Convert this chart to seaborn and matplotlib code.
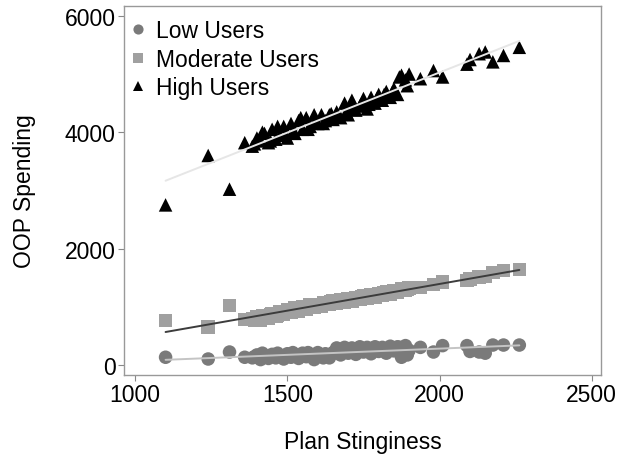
import matplotlib
matplotlib.use("Agg")
import matplotlib.pyplot as plt
import seaborn as sns
import pandas as pd

# Plan stinginess (shared x for all three user groups)
stinginess = [1100, 1240, 1310, 1360, 1385, 1392, 1400, 1412, 1418, 1425, 1438, 1444, 1450, 1462,
              1468, 1475, 1488, 1494, 1500, 1512, 1518, 1525, 1537, 1544, 1550, 1562, 1568, 1575,
              1588, 1594, 1600, 1612, 1618, 1625, 1638, 1644, 1650, 1662, 1668, 1675, 1688, 1694,
              1700, 1712, 1718, 1725, 1738, 1744, 1750, 1762, 1768, 1775, 1788, 1794, 1800, 1812,
              1818, 1825, 1838, 1844, 1850, 1862, 1868, 1875, 1888, 1894, 1900, 1937, 1980, 2010,
              2090, 2100, 2130, 2150, 2175, 2210, 2262]

high_oop = [2750, 3600, 3020, 3820, 3760, 3800, 3900, 3850, 4000, 3980, 3820, 3850, 4050, 3880,
            4100, 3950, 4100, 3950, 3900, 4150, 4000, 3980, 4200, 4250, 4050, 4250, 4050, 4100,
            4300, 4200, 4150, 4300, 4150, 4200, 4300, 4320, 4220, 4350, 4280, 4250, 4500, 4350,
            4300, 4550, 4420, 4380, 4450, 4500, 4580, 4400, 4480, 4600, 4500, 4580, 4650, 4550,
            4650, 4700, 4600, 4680, 4750, 4650, 4950, 4980, 4900, 4800, 5000, 4920, 5060, 4950,
            5170, 5250, 5350, 5380, 5210, 5320, 5460]

moderate_oop = [760, 650, 1020, 780, 790, 760, 820, 760, 840, 850, 800, 860, 880, 830,
                850, 920, 870, 910, 940, 900, 940, 980, 930, 950, 1000, 960, 1000, 1030,
                990, 1020, 1040, 1010, 1060, 1070, 1040, 1080, 1100, 1060, 1090, 1120, 1080, 1110,
                1140, 1100, 1130, 1160, 1120, 1170, 1180, 1140, 1180, 1200, 1170, 1210, 1230, 1190,
                1240, 1250, 1220, 1260, 1270, 1240, 1280, 1300, 1280, 1300, 1320, 1330, 1380, 1420,
                1450, 1480, 1510, 1520, 1590, 1620, 1640]

low_oop = [130, 100, 220, 130, 120, 140, 170, 90, 200, 150, 110, 140, 180, 120,
           200, 160, 100, 150, 190, 130, 210, 170, 110, 140, 200, 140, 210, 180,
           90, 160, 210, 150, 120, 190, 120, 180, 210, 290, 250, 170, 300, 240,
           200, 290, 270, 180, 310, 250, 220, 300, 280, 190, 310, 270, 230, 300,
           260, 200, 320, 280, 240, 310, 300, 130, 330, 170, 250, 300, 220, 330,
           330, 230, 220, 200, 340, 340, 340]

groups = ['Low Users', 'Moderate Users', 'High Users']
series = [low_oop, moderate_oop, high_oop]

df = pd.concat([pd.DataFrame({'Plan Stinginess': stinginess, 'OOP Spending': y, 'Group': g})
                for g, y in zip(groups, series)], ignore_index=True)

sns.set_theme(style="ticks")
plt.rcParams['font.family'] = ['Liberation Sans', 'DejaVu Sans']
plt.rcParams['text.color'] = 'black'
plt.rcParams['axes.labelcolor'] = 'black'
plt.rcParams['xtick.labelcolor'] = 'black'
plt.rcParams['ytick.labelcolor'] = 'black'

point_colors = {'Low Users': '#7a7a7a', 'Moderate Users': '#a0a0a0', 'High Users': '#000000'}
markers = {'Low Users': 'o', 'Moderate Users': 's', 'High Users': '^'}
line_colors = {'Low Users': '#c4c4c4', 'Moderate Users': '#3c3c3c', 'High Users': '#e6e6e6'}

fig = plt.figure(figsize=(6.24, 4.6), dpi=100)
ax = fig.add_axes([0.199, 0.183, 0.764, 0.802])

sns.scatterplot(data=df, x='Plan Stinginess', y='OOP Spending', hue='Group', style='Group',
                palette=point_colors, markers=markers, hue_order=groups, style_order=groups,
                s=95, linewidth=0, ax=ax, zorder=2)

# linear fit lines drawn on top of the points
for g in groups:
    sns.regplot(data=df[df['Group'] == g], x='Plan Stinginess', y='OOP Spending',
                scatter=False, ci=None, color=line_colors[g],
                line_kws={'linewidth': 1.4, 'zorder': 3}, ax=ax)

ax.set_xlim(964, 2530)
ax.set_ylim(-172, 6172)
ax.set_xticks([1000, 1500, 2000, 2500])
ax.set_yticks([0, 2000, 4000, 6000])
ax.set_xlabel('Plan Stinginess', fontsize=16.5, labelpad=17)
ax.set_ylabel('OOP Spending', fontsize=16.5, labelpad=21)
ax.tick_params(axis='both', labelsize=16.5, length=4, width=0.8, color='#888888', pad=2)
for sp in ax.spines.values():
    sp.set_visible(True)
    sp.set_color('#999999')
    sp.set_linewidth(1)

leg = ax.legend(loc='upper left', bbox_to_anchor=(0.004, 0.965), frameon=False, fontsize=16.5,
                handletextpad=0.3, borderaxespad=0, borderpad=0, labelspacing=0.25,
                markerscale=0.75, handlelength=1.0)

fig.savefig('out.png', dpi=100)
